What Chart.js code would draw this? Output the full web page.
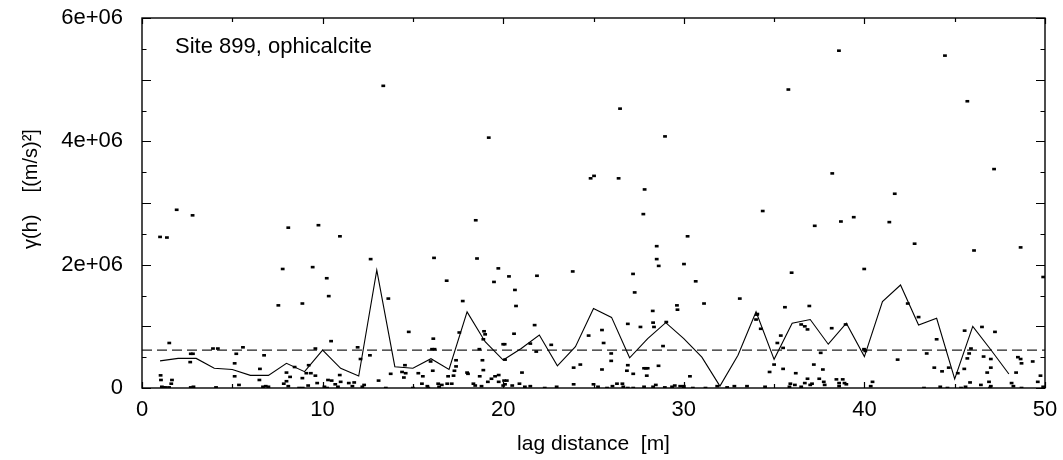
<!DOCTYPE html>
<html>
<head>
<meta charset="utf-8">
<script src="https://cdn.jsdelivr.net/npm/chart.js@4.4.1/dist/chart.umd.min.js"></script>
<style>
  body { margin: 0; background: #fff; }
  #wrap { width: 1063px; height: 460px; }
</style>
</head>
<body>
<div id="wrap"><canvas id="variogram"></canvas></div>
<script>
// semivariogram, values in units of 1e6 (m/s)^2
const lagBins = [1,2,3,4,5,6,7,8,9,10,11,12,13,14,15,16,17,18,19,20,21,22,23,24,
                 25,26,27,28,29,30,31,32,33,34,35,36,37,38,39,40,41,42,43,44,45,46,47,48];
const gammaMean = [0.44,0.48,0.48,0.32,0.30,0.205,0.205,0.40,0.265,0.615,0.32,0.195,1.91,0.345,0.32,0.475,
                   0.30,1.235,0.75,0.453,0.64,0.86,0.36,0.67,1.29,1.145,0.49,0.80,1.06,0.80,0.50,0.03,
                   0.53,1.235,0.465,1.05,1.11,0.71,1.05,0.51,1.40,1.67,1.02,1.13,0.146,1.00,0.62,0.227];
const sillValue = 0.615;
const sillRange = [0, 50];

// single pair values (lag, gamma)
const pairLag = [
  1.0,1.38,1.92,2.8,1.51,7.55,7.79,8.1,8.88,9.45,9.77,10.23,10.34,10.47,10.96,12.66,13.36,13.64,14.77,16.17,
  16.13,16.87,17.76,18.48,18.55,19.2,19.49,19.73,20.32,20.65,20.71,21.87,23.85,24.84,25.03,26.39,26.47,27.19,27.28,27.76,
  27.83,28.5,28.5,28.61,28.96,29.62,29.65,30.01,30.21,30.66,31.12,33.1,34.37,35.79,35.97,35.6,36.95,37.25,38.22,38.59,
  38.7,39.41,39.99,41.38,41.68,42.78,44.46,45.7,46.07,47.18,48.65,49.9,43.0,34.07,42.4,
  2.7,2.82,2.67,3.93,4.2,5.59,5.22,5.13,5.13,5.37,6.76,6.53,6.5,6.7,6.85,7.0,1.03,1.05,1.1,1.2,
  1.3,1.5,1.66,1.62,2.7,2.85,4.1,8.0,8.2,8.0,7.85,8.1,8.45,8.88,9.23,9.1,9.35,9.6,9.7,9.2,
  9.6,8.7,8.9,
  11.94,12.1,12.62,16.06,16.2,15.98,17.57,18.94,19.0,18.9,18.68,17.39,18.85,20.0,
  10.3,10.5,10.95,11.0,10.7,10.85,11.45,11.75,11.65,12.2,12.3,10.1,10.25,
  13.1,13.77,13.5,14.4,14.6,14.5,14.56,15.0,15.3,15.55,15.5,15.8,15.85,16.1,
  16.4,16.45,16.6,16.9,16.95,17.15,17.25,17.3,17.39,
  18.0,18.05,18.35,18.45,18.7,18.8,18.9,19.15,19.35,19.55,19.75,19.75,20.0,20.05,
  20.6,20.08,20.1,21.74,21.5,21.83,22.66,21.04,23.9,24.27,24.73,25.47,25.56,25.98,25.98,25.47,26.9,27.6,28.28,28.3,
  28.35,28.85,29.03,26.9,26.85,27.2,27.8,27.9,28.0,27.95,28.6,
  20.2,20.1,20.5,20.9,21.2,21.5,22.3,22.96,23.9,25.0,25.25,25.75,26.05,26.3,26.6,26.65,26.9,27.2,27.8,28.3,
  28.45,28.95,29.35,29.5,29.8,30.0,
  34.05,34.0,34.26,36.5,36.7,36.85,35.37,35.18,35.5,38.19,38.96,37.58,37.2,37.7,39.98,40.05,30.34,35.0,34.75,35.5,
  36.2,36.85,37.1,37.5,37.75,37.8,38.45,38.6,38.8,38.6,38.9,39.0,35.9,35.85,36.15,36.5,36.7,37.0,30.0,30.5,
  31.2,31.85,32.4,32.8,33.5,34.5,
  44.0,41.84,43.45,43.87,44.3,44.67,45.17,45.53,45.55,46.51,47.23,45.9,45.8,45.7,46.6,47.0,47.0,46.8,48.5,48.65,
  48.7,48.4,49.32,49.75,49.6,49.9,
  40.45,40.35,43.3,44.2,44.6,45.35,45.6,45.85,46.45,46.9,47.0,46.95,48.15,48.25,48.7
];
const pairGamma = [
  2.45,2.44,2.89,2.80,0.73,1.34,1.93,2.60,1.37,1.96,2.64,1.78,1.49,0.76,2.46,2.09,4.90,1.45,0.91,2.11,
  0.80,1.74,1.41,2.72,2.10,4.06,1.72,1.94,1.81,1.59,1.33,1.82,1.89,3.40,3.44,3.40,4.53,1.85,1.55,2.82,
  3.22,2.30,2.09,1.98,4.08,1.34,1.27,2.01,2.46,1.73,1.37,1.45,2.87,4.84,1.87,1.31,1.33,2.63,3.48,5.47,
  2.70,2.77,1.93,2.69,3.15,2.34,5.39,4.65,2.23,3.55,2.28,1.80,1.15,1.20,1.37,
  0.555,0.555,0.42,0.64,0.64,0.66,0.555,0.40,0.19,0.05,0.53,0.31,0.13,0.02,0.03,0.02,0.205,0.13,0.02,0.01,
  0.01,0.01,0.13,0.07,0.01,0.02,0.01,0.25,0.18,0.11,0.07,0.03,0.34,0.16,0.37,0.24,0.24,0.20,0.08,0.04,
  0.64,0.0,0.0,
  0.66,0.47,0.53,0.63,0.63,0.43,0.90,0.92,0.87,0.79,0.63,0.45,0.45,0.71,
  0.13,0.12,0.21,0.10,0.06,0.02,0.08,0.09,0.03,0.02,0.05,0.02,0.0,
  0.12,0.23,0.0,0.26,0.24,0.17,0.37,0.0,0.24,0.19,0.07,0.03,0.0,0.28,
  0.07,0.02,0.05,0.07,0.19,0.07,0.20,0.28,0.35,
  0.25,0.23,0.07,0.04,0.19,0.03,0.29,0.10,0.15,0.19,0.21,0.10,0.04,0.12,
  0.88,0.71,0.46,1.02,0.72,0.59,0.70,0.25,0.33,0.38,0.85,0.94,0.73,0.56,0.44,0.30,1.04,0.99,1.25,1.06,
  0.99,0.68,1.07,0.37,0.28,0.23,0.32,0.32,0.32,0.20,0.36,
  0.12,0.06,0.04,0.07,0.02,0.03,0.0,0.02,0.06,0.06,0.02,0.0,0.03,0.07,0.07,0.02,0.0,0.0,0.02,0.02,
  0.05,0.01,0.02,0.04,0.03,0.0,
  1.19,1.11,0.96,1.03,1.00,0.95,0.85,0.73,0.65,0.97,1.03,0.57,0.38,0.30,0.63,0.60,0.19,0.38,0.26,0.31,
  0.24,0.15,0.07,0.15,0.10,0.05,0.14,0.08,0.14,0.03,0.08,0.06,0.07,0.02,0.05,0.02,0.08,0.05,0.03,0.0,
  0.0,0.03,0.01,0.03,0.03,0.02,
  0.79,0.46,0.56,0.33,0.27,0.33,0.24,0.31,0.93,0.99,0.91,0.64,0.56,0.48,0.51,0.47,0.33,0.25,0.50,0.47,
  0.40,0.25,0.43,0.20,0.10,0.02,
  0.10,0.03,0.0,0.02,0.0,0.0,0.02,0.09,0.05,0.10,0.03,0.0,0.08,0.03,0.0
];

const xTicks = [0, 10, 20, 30, 40, 50];
const yTicks = [0, 2, 4, 6];
const panelLabel = 'Site 899, ophicalcite';

const FONT = "'Liberation Sans', Arial, Helvetica, sans-serif";

// frame + inward gnuplot style ticks on all four sides
const frameTicks = {
  id: 'frameTicks',
  afterDatasetsDraw(chart) {
    const { ctx, chartArea: a, scales } = chart;
    const x = scales.x, y = scales.y;
    ctx.save();
    ctx.strokeStyle = '#000';
    ctx.lineWidth = 1.2;
    for (let v = 0; v <= 6.001; v += 0.5) {
      const py = Math.round(y.getPixelForValue(v)) + 0.5;
      const len = Math.abs(v - Math.round(v)) < 0.01 ? 9 : 4.5;
      ctx.beginPath();
      ctx.moveTo(a.left, py); ctx.lineTo(a.left + len, py);
      ctx.moveTo(a.right, py); ctx.lineTo(a.right - len, py);
      ctx.stroke();
    }
    for (let v = 0; v <= 50; v += 5) {
      const px = Math.round(x.getPixelForValue(v)) + 0.5;
      const len = v % 10 === 0 ? 6 : 4;
      ctx.beginPath();
      ctx.moveTo(px, a.top); ctx.lineTo(px, a.top + len);
      ctx.moveTo(px, a.bottom); ctx.lineTo(px, a.bottom - len);
      ctx.stroke();
    }
    ctx.lineWidth = 1.4;
    ctx.strokeRect(a.left, a.top, a.right - a.left, a.bottom - a.top);

    ctx.fillStyle = '#000';
    ctx.font = '22px ' + FONT;
    ctx.textBaseline = 'alphabetic';
    ctx.fillText(panelLabel, a.left + 33, a.top + 35);
    ctx.restore();
  }
};

new Chart(document.getElementById('variogram'), {
  type: 'scatter',
  data: {
    datasets: [
      {
        label: 'pairs',
        data: pairLag.map((h, i) => ({ x: h, y: pairGamma[i] })),
        pointStyle: 'line',
        pointRadius: 1.9,
        borderWidth: 2.6,
        borderColor: '#000',
        backgroundColor: '#000',
        showLine: false
      },
      {
        label: 'mean',
        data: lagBins.map((h, i) => ({ x: h, y: gammaMean[i] })),
        showLine: true,
        pointRadius: 0,
        borderColor: '#000',
        borderWidth: 1.1,
        tension: 0
      },
      {
        label: 'sill',
        data: sillRange.map(h => ({ x: h, y: sillValue })),
        showLine: true,
        pointRadius: 0,
        borderColor: '#222',
        borderWidth: 1.2,
        borderDash: [10, 5]
      }
    ]
  },
  options: {
    responsive: true,
    maintainAspectRatio: false,
    animation: false,
    layout: { padding: { top: 18, right: 18, left: 0, bottom: 0 } },
    scales: {
      x: {
        type: 'linear',
        min: 0,
        max: 50,
        afterFit(scale) {
          scale.height = 72;
          scale.paddingLeft = 0;
          scale.paddingRight = 0;
        },
        afterBuildTicks(scale) { scale.ticks = xTicks.map(v => ({ value: v })); },
        grid: { display: false, drawTicks: false },
        border: { display: false },
        ticks: {
          color: '#000',
          padding: 9,
          font: { family: FONT, size: 22 },
          maxRotation: 0
        },
        title: {
          display: true,
          text: 'lag distance  [m]',
          color: '#000',
          font: { family: FONT, size: 21 },
          padding: { top: 0, bottom: 3 }
        }
      },
      y: {
        min: 0,
        max: 6,
        afterFit(scale) {
          scale.width = 142;
          scale.paddingTop = 0;
          scale.paddingBottom = 0;
        },
        afterBuildTicks(scale) { scale.ticks = yTicks.map(v => ({ value: v })); },
        grid: { display: false, drawTicks: false },
        border: { display: false },
        ticks: {
          color: '#000',
          padding: 19,
          font: { family: FONT, size: 22 },
          callback: v => (v === 0 ? '0' : v + 'e+06')
        },
        title: {
          display: true,
          text: '     γ(h)    [(m/s)²]',
          color: '#000',
          font: { family: FONT, size: 20 },
          padding: { top: 19, bottom: 0 }
        }
      }
    },
    plugins: {
      legend: { display: false },
      tooltip: { enabled: false }
    }
  },
  plugins: [frameTicks]
});
</script>
</body>
</html>
